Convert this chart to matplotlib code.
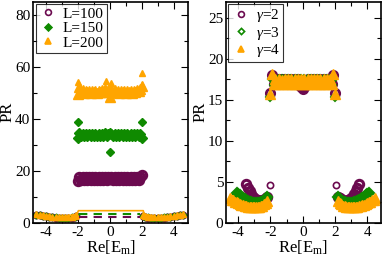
import matplotlib
matplotlib.use('Agg')
import matplotlib.pyplot as plt
from matplotlib.ticker import MultipleLocator

plt.rcParams['font.family'] = 'Liberation Serif'
plt.rcParams['mathtext.fontset'] = 'custom'
plt.rcParams['mathtext.rm'] = 'Liberation Serif'
plt.rcParams['mathtext.it'] = 'Liberation Serif:italic'
plt.rcParams['axes.unicode_minus'] = False
plt.rcParams['font.size'] = 11

purple = '#6b0a4f'
green = '#0f8a00'
orange = '#ffa500'

# ---- left panel: PR vs Re[E_m] for different L ----
E_band = [-2.0, -1.9, -1.8, -1.7, -1.6, -1.5, -1.4, -1.3, -1.2, -1.1, -1.0,
          -0.9, -0.8, -0.7, -0.6, -0.5, -0.4, -0.3, -0.2, -0.1, 0.0,
          0.1, 0.2, 0.3, 0.4, 0.5, 0.6, 0.7, 0.8, 0.9, 1.0,
          1.1, 1.2, 1.3, 1.4, 1.5, 1.6, 1.7, 1.8, 1.9, 2.0]
pr100 = [16.0, 17.8, 16.6, 17.5, 16.5, 17.6, 16.6, 17.5, 16.5, 17.6, 16.6,
         17.5, 16.5, 17.6, 16.6, 17.5, 16.6, 17.6, 16.5, 17.5, 16.9,
         17.5, 16.5, 17.6, 16.6, 17.5, 16.5, 17.6, 16.6, 17.5, 16.5,
         17.6, 16.6, 17.5, 16.5, 17.6, 16.6, 17.5, 16.6, 17.8, 18.4]
pr150 = [32.6, 34.4, 33.2, 34.2, 33.3, 34.1, 33.4, 34.2, 33.3, 34.1, 33.4,
         34.2, 33.3, 34.3, 33.4, 34.2, 33.3, 34.4, 33.4, 34.3, 34.5,
         34.2, 33.4, 34.3, 33.3, 34.2, 33.4, 34.1, 33.3, 34.2, 33.4,
         34.1, 33.3, 34.2, 33.4, 34.1, 33.3, 34.2, 33.3, 34.3, 32.7]
pr200 = [49.6, 52.0, 50.3, 51.0, 50.0, 50.8, 50.1, 50.7, 50.0, 50.8, 50.1,
         50.7, 50.0, 50.8, 50.2, 50.9, 50.4, 51.4, 50.4, 51.0, 48.5,
         51.0, 50.3, 50.9, 50.1, 50.7, 50.0, 50.8, 50.1, 50.7, 50.0,
         50.8, 50.1, 50.7, 50.0, 50.8, 50.2, 50.9, 50.5, 51.3, 52.4]
E150_out = [-2.0, 0.0, 2.0]
pr150_out = [38.7, 27.4, 38.7]
E200_out = [-2.0, -0.25, 0.05, 2.0, 2.0]
pr200_out = [54.0, 54.6, 53.8, 57.5, 53.0]

E_tail = [-4.6, -4.4, -4.2, -4.0, -3.8, -3.6, -3.4, -3.2, -3.0, -2.8, -2.6, -2.4, -2.2, -2.1]
pr_tail100 = [3.0, 2.9, 2.7, 2.5, 2.3, 2.1, 2.0, 1.9, 1.9, 1.9, 1.9, 2.0, 2.3, 2.6]
pr_tail150 = [3.1, 3.0, 2.8, 2.6, 2.4, 2.2, 2.1, 2.0, 2.0, 2.0, 2.0, 2.1, 2.4, 2.8]
pr_tail200 = [3.3, 3.2, 3.0, 2.8, 2.6, 2.4, 2.3, 2.2, 2.1, 2.1, 2.1, 2.2, 2.5, 2.9]

# reference levels drawn as lines
E_dash = [-1.9, 1.9]
lvl100 = [2.3, 2.3]
lvl150 = [3.3, 3.3]
E_step = [-2.7, -2.05, -1.97, 2.1, 2.15, 2.7]
lvl200 = [2.6, 3.4, 4.7, 4.7, 3.4, 2.6]

# ---- right panel: PR vs Re[E_m] for different gamma ----
prg2 = [15.8, 18.0, 16.9, 17.6, 17.0, 17.5, 17.0, 17.6, 17.0, 17.5, 17.0,
        17.6, 17.0, 17.5, 17.0, 17.6, 17.0, 17.5, 16.8, 16.6, 16.3,
        16.6, 16.8, 17.5, 17.0, 17.6, 17.0, 17.5, 17.0, 17.6, 17.0,
        17.5, 17.0, 17.6, 17.0, 17.5, 17.0, 17.6, 16.9, 18.0, 15.8]
prg3 = [15.3, 17.6, 16.8, 17.5, 17.0, 17.6, 16.9, 17.5, 17.0, 17.6, 16.9,
        17.5, 17.0, 17.6, 16.9, 17.5, 17.0, 17.6, 16.9, 17.5, 17.0,
        17.5, 16.9, 17.6, 17.0, 17.5, 16.9, 17.6, 17.0, 17.5, 16.9,
        17.6, 17.0, 17.5, 16.9, 17.6, 17.0, 17.5, 16.8, 17.6, 15.3]
prg4 = [15.7, 18.2, 17.0, 17.5, 16.9, 17.6, 17.0, 17.4, 16.9, 17.6, 17.0,
        17.5, 16.9, 17.6, 17.0, 17.5, 16.9, 17.6, 17.0, 17.5, 16.9,
        17.5, 17.0, 17.6, 16.9, 17.5, 17.0, 17.6, 16.9, 17.5, 17.0,
        17.6, 16.9, 17.5, 17.0, 17.6, 16.9, 17.5, 17.0, 18.2, 15.7]
Eg2_out = [-2.05, 2.05]
prg2_out = [4.6, 4.6]

Eg2_arc = [-3.5, -3.4, -3.3, -3.2, -3.1, -3.0, -2.9, -2.8, -2.7, -2.6, -2.5, -2.4, -2.3, -2.2]
prg2_arc = [4.8, 4.3, 3.9, 3.5, 3.2, 3.0, 2.85, 2.75, 2.7, 2.7, 2.75, 2.85, 3.0, 3.1]
Eg3_arc = [-4.1, -4.0, -3.9, -3.8, -3.7, -3.6, -3.5, -3.4, -3.3, -3.2, -3.1, -3.0,
           -2.9, -2.8, -2.7, -2.6, -2.5, -2.4, -2.3, -2.2]
prg3_arc = [3.7, 3.5, 3.35, 3.2, 3.05, 2.9, 2.8, 2.7, 2.6, 2.5, 2.45, 2.4,
            2.4, 2.4, 2.45, 2.5, 2.55, 2.7, 2.9, 3.1]
Eg4_arc = [-4.5, -4.4, -4.3, -4.2, -4.1, -4.0, -3.9, -3.8, -3.7, -3.6, -3.5, -3.4,
           -3.3, -3.2, -3.1, -3.0, -2.9, -2.8, -2.7, -2.6, -2.5, -2.4, -2.3, -2.2]
prg4_arc = [3.0, 2.85, 2.75, 2.6, 2.5, 2.4, 2.3, 2.2, 2.15, 2.1, 2.05, 2.0,
            2.0, 1.95, 1.95, 1.95, 1.95, 1.95, 2.0, 2.05, 2.1, 2.25, 2.45, 2.65]


def both_sides(E, v):
    return E + [-e for e in E], v + v


def style_axes(ax, ymajor, yminor):
    ax.xaxis.set_major_locator(MultipleLocator(2))
    ax.xaxis.set_minor_locator(MultipleLocator(1))
    ax.yaxis.set_major_locator(MultipleLocator(ymajor))
    ax.yaxis.set_minor_locator(MultipleLocator(yminor))
    ax.tick_params(which='both', direction='in', top=True, right=True, labelsize=11, pad=2)
    ax.tick_params(which='major', length=5, width=0.8)
    ax.tick_params(which='minor', length=3, width=0.8)
    for s in ax.spines.values():
        s.set_linewidth(1.2)
    ax.set_xlabel('Re[E$_\\mathrm{m}$]', fontsize=12, labelpad=0)
    ax.set_ylabel('PR', fontsize=12, labelpad=0)


fig = plt.figure(figsize=(3.82, 2.58), dpi=100)
ax1 = fig.add_axes([0.087, 0.136, 0.405, 0.858])
ax2 = fig.add_axes([0.592, 0.136, 0.405, 0.858])

ms = 4.5
# left
x, y = both_sides(E_tail, pr_tail100)
ax1.plot(x, y, 'o', ms=ms, mfc='none', mec=purple, mew=1.2, ls='none')
x, y = both_sides(E_tail, pr_tail150)
ax1.plot(x, y, 'D', ms=ms - 1, color=green, ls='none')
x, y = both_sides(E_tail, pr_tail200)
ax1.plot(x, y, '^', ms=ms + 0.5, color=orange, ls='none')
ax1.plot(E_dash, lvl100, '--', color=purple, lw=1.5, dashes=(4, 3))
ax1.plot(E_dash, lvl150, '--', color=green, lw=1.5, dashes=(4, 3))
ax1.plot(E_step, lvl200, '-', color=orange, lw=1.2)

ax1.plot(E_band, pr100, 'o', ms=ms + 1.5, mfc='none', mec=purple, mew=2.2, ls='none', label='L=100')
ax1.plot(E_band, pr150, 'D', ms=ms + 0.5, color=green, ls='none', label='L=150')
ax1.plot(E150_out, pr150_out, 'D', ms=ms - 0.5, color=green, ls='none')
ax1.plot(E_band, pr200, '^', ms=ms + 2, color=orange, ls='none', label='L=200')
ax1.plot(E200_out, pr200_out, '^', ms=ms + 0.5, color=orange, ls='none')

ax1.set_xlim(-4.8, 4.9)
ax1.set_ylim(0, 85)
style_axes(ax1, 20, 10)

# right
x, y = both_sides(Eg2_arc, prg2_arc)
ax2.plot(x, y, 'o', ms=ms + 1.5, mfc='none', mec=purple, mew=2.2, ls='none')
x, y = both_sides(Eg3_arc, prg3_arc)
ax2.plot(x, y, 'D', ms=ms + 1, mfc=green, mec=green, mew=1.5, ls='none')
x, y = both_sides(Eg4_arc, prg4_arc)
ax2.plot(x, y, '^', ms=ms + 2.5, color=orange, ls='none')

ax2.plot(E_band, prg2, 'o', ms=ms + 1.5, mfc='none', mec=purple, mew=2.0, ls='none', label='$\\gamma$=2')
ax2.plot(Eg2_out, prg2_out, 'o', ms=ms, mfc='none', mec=purple, mew=1.2, ls='none')
ax2.plot(E_band, prg3, 'D', ms=ms, mfc='none', mec=green, mew=1.4, ls='none', label='$\\gamma$=3')
ax2.plot(E_band, prg4, '^', ms=ms + 2, color=orange, ls='none', label='$\\gamma$=4')

ax2.set_xlim(-4.75, 4.85)
ax2.set_ylim(0, 27)
style_axes(ax2, 5, 2.5)

for ax in (ax1, ax2):
    leg = ax.legend(loc='upper left', fontsize=11, handlelength=1.2, handletextpad=0.4,
                    borderpad=0.2, labelspacing=0.05, borderaxespad=0.15,
                    fancybox=False, markerscale=0.7)
    leg.get_frame().set_edgecolor('black')
    leg.get_frame().set_linewidth(0.8)
    for h in leg.legend_handles:
        h.set_markeredgewidth(1.2)

fig.savefig('out.png', dpi=100)
